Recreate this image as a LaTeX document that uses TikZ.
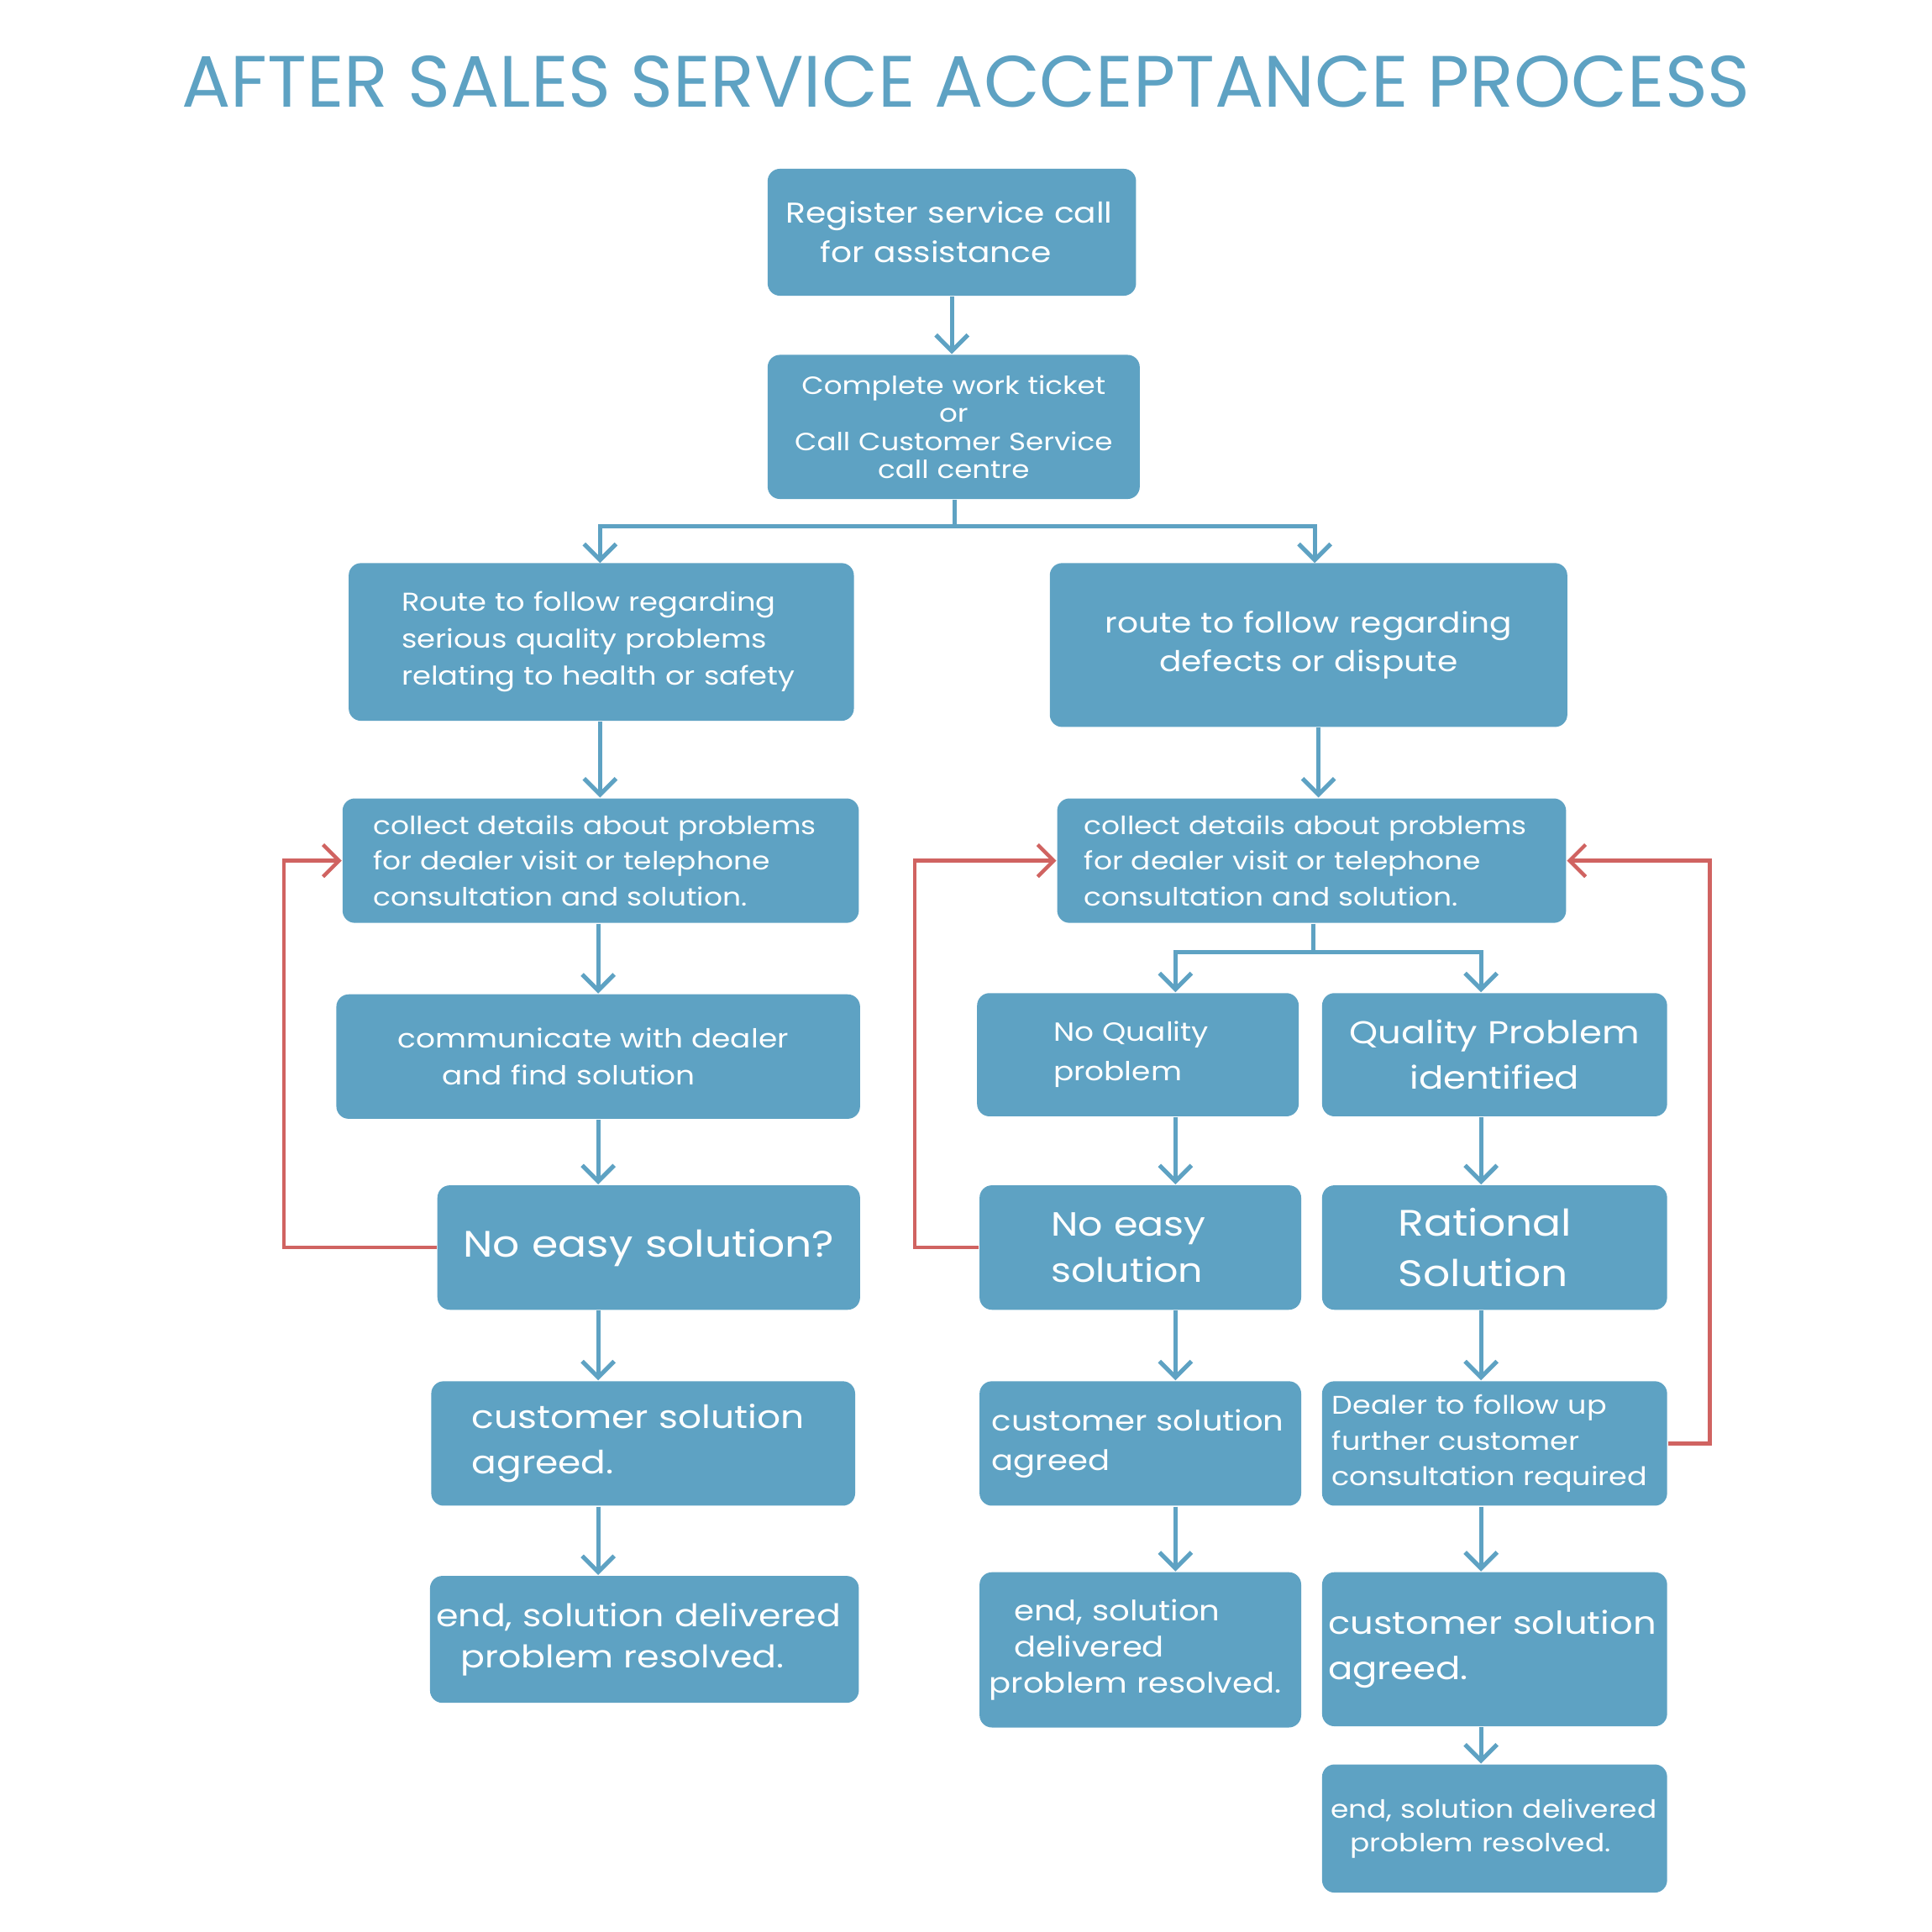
\documentclass[tikz,border=0pt]{standalone}
\usepackage{fontspec}
\setmainfont{Poppins}[FakeStretch=1.15]
\newfontfamily\titlefont{Poppins}
\usepackage{xcolor}
\usetikzlibrary{arrows.meta}

\definecolor{boxblue}{HTML}{5EA2C3}
\definecolor{loopred}{HTML}{D06361}

\tikzset{
  box/.style={fill=boxblue, text=white, rounded corners=0.1cm, inner ysep=0pt},
  flow/.style={draw=boxblue, line width=0.035cm, -{Straight Barb[length=0.13cm, width=0.26cm]}},
  loop/.style={draw=loopred, line width=0.03cm, -{Straight Barb[length=0.13cm, width=0.26cm]}},
}

\begin{document}
\begin{tikzpicture}[x=1cm, y=-1cm]
  \useasboundingbox (0,0) rectangle (15.68,15.68);

  % title
  \node[text=boxblue, font=\titlefont\fontsize{16.8pt}{19pt}\selectfont] (title) at (7.84,0.66) {AFTER SALES SERVICE ACCEPTANCE PROCESS};

  % top of the process
  \node[box, minimum height=1.03cm, text width=2.69cm, inner xsep=0.15cm, align=left,
        font=\fontsize{6.6pt}{9.1pt}\selectfont] (reg) at (7.725,1.885) {Register service call\\\hspace*{0.28cm}for assistance};
  \node[box, minimum width=3.02cm, minimum height=1.17cm, text width=2.92cm, inner xsep=0.05cm, align=center,
        font=\fontsize{5.75pt}{6.5pt}\selectfont] (comp) at (7.74,3.465) {Complete work ticket\\or\\Call Customer Service\\call centre};

  % left route
  \node[box, minimum height=1.28cm, text width=3.24cm, inner xsep=0.43cm, align=left,
        font=\fontsize{5.95pt}{8.5pt}\selectfont] (rleft) at (4.88,5.21) {Route to follow regarding\\serious quality problems\\relating to health or safety};
  \node[box, minimum height=1.01cm, text width=3.69cm, inner xsep=0.25cm, align=left,
        font=\fontsize{5.8pt}{8.3pt}\selectfont] (cleft) at (4.875,6.985) {collect details about problems\\for dealer visit or telephone\\consultation and solution.};
  \node[box, minimum height=1.01cm, text width=3.25cm, inner xsep=0.50cm, align=left,
        font=\fontsize{6.05pt}{8.5pt}\selectfont] (comm) at (4.855,8.575) {communicate with dealer\\\hspace*{0.36cm}and find solution};
  \node[box, minimum height=1.01cm, text width=3.33cm, inner xsep=0.05cm, align=center,
        font=\fontsize{8.5pt}{11pt}\selectfont] (noeasyL) at (5.265,10.125) {No easy solution?};
  \node[box, minimum height=1.01cm, text width=2.78cm, inner xsep=0.33cm, align=left,
        font=\fontsize{7.4pt}{10.5pt}\selectfont] (custL) at (5.22,11.715) {customer solution\\agreed.};
  \node[box, minimum height=1.03cm, text width=3.38cm, inner xsep=0.05cm, align=left,
        font=\fontsize{7.2pt}{9.4pt}\selectfont] (endL) at (5.23,13.305) {end, solution delivered\\\hspace*{0.2cm}problem resolved.};

  % right route
  \node[box, minimum height=1.33cm, text width=4.10cm, inner xsep=0.05cm, align=center,
        font=\fontsize{6.6pt}{9.1pt}\selectfont] (rright) at (10.62,5.235) {route to follow regarding\\defects or dispute};
  \node[box, minimum height=1.01cm, text width=3.69cm, inner xsep=0.22cm, align=left,
        font=\fontsize{5.8pt}{8.3pt}\selectfont] (cright) at (10.645,6.985) {collect details about problems\\for dealer visit or telephone\\consultation and solution.};
  \node[box, minimum height=1.00cm, text width=1.37cm, inner xsep=0.62cm, align=left,
        font=\fontsize{6.05pt}{9.1pt}\selectfont] (noq) at (9.235,8.56) {No Quality\\problem};
  \node[box, minimum height=1.00cm, text width=2.70cm, inner xsep=0.05cm, align=center,
        font=\fontsize{7.3pt}{10.5pt}\selectfont] (qp) at (12.13,8.56) {Quality Problem\\identified};
  \node[box, minimum height=1.01cm, text width=1.45cm, inner xsep=0.58cm, align=left,
        font=\fontsize{7.75pt}{10.5pt}\selectfont] (noeasyM) at (9.255,10.125) {No easy\\solution};
  \node[box, minimum height=1.01cm, text width=1.56cm, inner xsep=0.62cm, align=left,
        font=\fontsize{8.5pt}{11.7pt}\selectfont] (rat) at (12.13,10.125) {Rational\\Solution};
  \node[box, minimum height=1.01cm, text width=2.41cm, inner xsep=0.10cm, align=left,
        font=\fontsize{6.5pt}{9.1pt}\selectfont] (custM) at (9.255,11.715) {customer solution\\agreed};
  \node[box, minimum height=1.01cm, text width=2.64cm, inner xsep=0.08cm, align=left,
        font=\fontsize{5.9pt}{8.3pt}\selectfont] (deal) at (12.13,11.715) {Dealer to follow up\\further customer\\consultation required};
  \node[box, minimum height=1.26cm, text width=2.45cm, inner xsep=0.08cm, align=left,
        font=\fontsize{6.5pt}{8.3pt}\selectfont] (endM) at (9.255,13.39) {\hspace*{0.2cm}end, solution\\\hspace*{0.2cm}delivered\\problem resolved.};
  \node[box, minimum height=1.25cm, text width=2.70cm, inner xsep=0.05cm, align=left,
        font=\fontsize{7.3pt}{10.5pt}\selectfont] (custR) at (12.13,13.385) {customer solution\\agreed.\\[0.2cm]};
  \node[box, minimum height=1.04cm, text width=2.66cm, inner xsep=0.07cm, align=left,
        font=\fontsize{5.8pt}{7.7pt}\selectfont] (endR) at (12.13,14.84) {end, solution delivered\\\hspace*{0.16cm}problem resolved.};

  % split points and columns
  \coordinate (split) at (7.75,4.27);
  \coordinate (splitR) at (10.66,7.73);
  \coordinate (colM) at (9.54,0);
  \coordinate (colR) at (12.02,0);

  % blue connectors
  \draw[flow] (reg.south) -- (reg.south |- comp.north);
  \draw[flow] (comp.south -| split) -- (split) -| (4.87,4.57);
  \draw[flow] (split) -| (10.67,4.57);
  \draw[flow] (rleft.south -| 4.87,0) -- (cleft.north -| 4.87,0);
  \draw[flow] (rright.south -| 10.70,0) -- (cright.north -| 10.70,0);
  \draw[flow] (cleft.south -| comm) -- (comm.north);
  \draw[flow] (comm.south) -- (noeasyL.north -| comm);
  \draw[flow] (noeasyL.south -| comm) -- (custL.north -| comm);
  \draw[flow] (custL.south -| comm) -- (endL.north -| comm);

  \draw[flow] (cright.south -| splitR) -- (splitR) -| (noq.north -| colM);
  \draw[flow] (splitR) -| (qp.north -| colR);
  \draw[flow] (noq.south -| colM) -- (noeasyM.north -| colM);
  \draw[flow] (noeasyM.south -| colM) -- (custM.north -| colM);
  \draw[flow] (custM.south -| colM) -- (endM.north -| colM);
  \draw[flow] (qp.south -| colR) -- (rat.north -| colR);
  \draw[flow] (rat.south -| colR) -- (deal.north -| colR);
  \draw[flow] (deal.south -| colR) -- (custR.north -| colR);
  \draw[flow] (custR.south -| colR) -- (endR.north -| colR);

  % red loops back
  \draw[loop] (noeasyL.west) -- ++(-1.24,0) |- (cleft.west);
  \draw[loop] (noeasyM.west) -- ++(-0.52,0) |- (cright.west);
  \draw[loop] (deal.east) -- ++(0.34,0) |- (cright.east);
\end{tikzpicture}
\end{document}
